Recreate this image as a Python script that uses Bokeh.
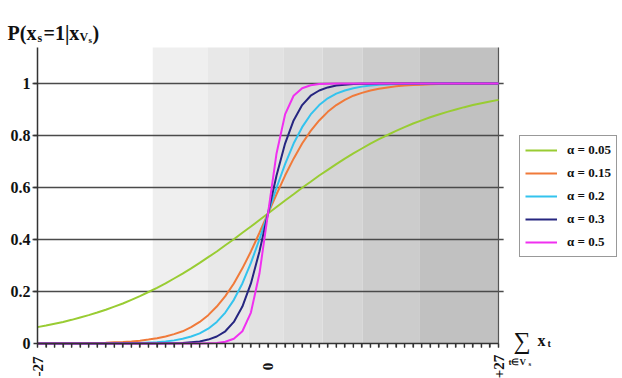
from math import pi
from bokeh.plotting import figure
from bokeh.models import (Range1d, FixedTicker, Label, LabelSet, ColumnDataSource,
                          Legend, LegendItem)
from bokeh.embed import file_html
from bokeh.resources import INLINE

# ---------------- data ----------------
xs = list(range(-27, 28))

alpha_labels = ["α = 0.05", "α = 0.15", "α = 0.2", "α = 0.3", "α = 0.5"]

p_a005 = [0.063, 0.069, 0.076, 0.083, 0.091, 0.100, 0.109, 0.119, 0.130, 0.142,
          0.154, 0.168, 0.182, 0.198, 0.214, 0.231, 0.250, 0.269, 0.289, 0.310,
          0.332, 0.354, 0.378, 0.401, 0.426, 0.450, 0.475,
          0.500,
          0.525, 0.550, 0.574, 0.599, 0.622, 0.646, 0.668, 0.690, 0.711, 0.731,
          0.750, 0.769, 0.786, 0.802, 0.818, 0.832, 0.846, 0.858, 0.870, 0.881,
          0.891, 0.900, 0.909, 0.917, 0.924, 0.931, 0.937]

p_a015 = [0.000, 0.000, 0.001, 0.001, 0.001, 0.001, 0.002, 0.002, 0.003, 0.005,
          0.006, 0.008, 0.011, 0.015, 0.020, 0.027, 0.036, 0.047, 0.063, 0.083,
          0.109, 0.142, 0.182, 0.231, 0.289, 0.354, 0.426,
          0.500,
          0.574, 0.646, 0.711, 0.769, 0.818, 0.858, 0.891, 0.917, 0.937, 0.953,
          0.964, 0.973, 0.980, 0.985, 0.989, 0.992, 0.994, 0.995, 0.997, 0.998,
          0.998, 0.999, 0.999, 0.999, 0.999, 1.000, 1.000]

p_a02 = [0.000, 0.000, 0.000, 0.000, 0.000, 0.000, 0.000, 0.000, 0.000, 0.001,
         0.001, 0.002, 0.002, 0.004, 0.005, 0.008, 0.012, 0.018, 0.027, 0.039,
         0.057, 0.083, 0.119, 0.168, 0.231, 0.310, 0.401,
         0.500,
         0.599, 0.690, 0.769, 0.832, 0.881, 0.917, 0.943, 0.961, 0.973, 0.982,
         0.988, 0.992, 0.995, 0.996, 0.998, 0.998, 0.999, 0.999, 1.000, 1.000,
         1.000, 1.000, 1.000, 1.000, 1.000, 1.000, 1.000]

p_a03 = [0.000, 0.000, 0.000, 0.000, 0.000, 0.000, 0.000, 0.000, 0.000, 0.000,
         0.000, 0.000, 0.000, 0.000, 0.000, 0.001, 0.001, 0.002, 0.005, 0.008,
         0.015, 0.027, 0.047, 0.083, 0.142, 0.231, 0.354,
         0.500,
         0.646, 0.769, 0.858, 0.917, 0.953, 0.973, 0.985, 0.992, 0.995, 0.998,
         0.999, 0.999, 1.000, 1.000, 1.000, 1.000, 1.000, 1.000, 1.000, 1.000,
         1.000, 1.000, 1.000, 1.000, 1.000, 1.000, 1.000]

p_a05 = [0.000, 0.000, 0.000, 0.000, 0.000, 0.000, 0.000, 0.000, 0.000, 0.000,
         0.000, 0.000, 0.000, 0.000, 0.000, 0.000, 0.000, 0.000, 0.000, 0.000,
         0.001, 0.002, 0.007, 0.018, 0.047, 0.119, 0.269,
         0.500,
         0.731, 0.881, 0.953, 0.982, 0.993, 0.998, 0.999, 1.000, 1.000, 1.000,
         1.000, 1.000, 1.000, 1.000, 1.000, 1.000, 1.000, 1.000, 1.000, 1.000,
         1.000, 1.000, 1.000, 1.000, 1.000, 1.000, 1.000]

series = [p_a005, p_a015, p_a02, p_a03, p_a05]
for s in series:
    assert len(s) == len(xs)

y_ticks = [0, 0.2, 0.4, 0.6, 0.8, 1.0]
x_tick_vals = [-27, 0, 27]
x_tick_labels = ["-27", "0", "+27"]

# background bands (x edges)
band_edges = [-13.5, -7.1, -2.3, 1.8, 6.4, 11.1, 17.8, 27]

# ---------------- styles ----------------
colors = ["#99cc33", "#f07a3a", "#33c3ee", "#262680", "#f030f0"]
band_colors = ["#efefef", "#e8e8e8", "#e2e2e2", "#dcdcdc", "#d5d5d5", "#cccccc", "#c1c1c1"]
SERIF = "Liberation Serif"
AX = "#333333"
W, H = 622, 378

YTOP = 1.138
# frame = whole canvas; data x=-27 at px 37, x=27 at px 498; y=0 at px 343, y=1 at px 83
PXX = (498 - 37) / 54.0
PXY = (343 - 83) / 1.0
x0 = -27 - 37 / PXX
x1 = 27 + (W - 498) / PXX
y0 = -(H - 343) / PXY
y1 = 343 / PXY
TICK = 4  # px

p = figure(width=W, height=H, output_backend="svg", toolbar_location=None,
           x_range=Range1d(x0, x1), y_range=Range1d(y0, y1), min_border=0)
p.outline_line_color = None
p.grid.visible = False
p.background_fill_color = "white"
p.border_fill_color = "white"

# bands
p.quad(left=band_edges[:-1], right=band_edges[1:], bottom=0, top=YTOP,
       fill_color=band_colors, line_color=None)

# horizontal grid lines (crossing the y axis as its ticks)
grid_y = [v for v in y_ticks if v > 0]
p.segment(x0=[-27 - 5 / PXX] * len(grid_y), x1=[27.6] * len(grid_y), y0=grid_y, y1=grid_y,
          line_color="#4a4a4a", line_width=1.5)
# right edge line
p.segment(x0=[27], x1=[27], y0=[0], y1=[YTOP], line_color="#555555", line_width=1.2)

renderers = []
for ys, c in zip(series, colors):
    r = p.line(xs, ys, line_color=c, line_width=2)
    renderers.append(r)

# x tick marks below the axis at every unit
p.segment(x0=xs, x1=xs, y0=[0] * len(xs), y1=[-TICK / PXY] * len(xs),
          line_color="#222222", line_width=1.3)

# axes (fixed inside the frame)
xa = p.xaxis[0]
xa.fixed_location = 0
xa.ticker = FixedTicker(ticks=xs, minor_ticks=[])
xa.major_label_overrides = {v: "" for v in xs}
xa.bounds = (-27, 27)
xa.axis_line_color = AX
xa.axis_line_width = 1.5
xa.major_tick_out = TICK
xa.major_tick_in = 0
xa.major_tick_line_color = AX
xa.major_tick_line_width = 1.2
xa.minor_tick_out = 0
xa.minor_tick_in = 0

ya = p.yaxis[0]
ya.fixed_location = -27
ya.ticker = FixedTicker(ticks=y_ticks)
ya.bounds = (0, YTOP)
ya.major_label_overrides = {0: "0", 1: "1"}
ya.axis_line_color = AX
ya.axis_line_width = 1.5
ya.major_tick_out = TICK
ya.major_tick_in = 0
ya.major_tick_line_color = AX
ya.major_tick_line_width = 1.5
ya.minor_tick_out = 0
ya.minor_tick_in = 0
ya.major_label_standoff = 3
ya.major_label_text_font = SERIF
ya.major_label_text_font_style = "bold"
ya.major_label_text_font_size = "16px"
ya.major_label_text_color = "#111111"

# x tick labels (rotated, centred)
src = ColumnDataSource(dict(x=x_tick_vals, t=x_tick_labels))
p.add_layout(LabelSet(x="x", y=H - 366, y_units="screen", text="t", source=src,
                      angle=pi / 2, text_align="center", text_baseline="middle",
                      text_font=SERIF, text_font_style="bold",
                      text_font_size="15px", text_color="#111111"))

def lab(text, cx, cy, size, style="bold", font=SERIF):
    p.add_layout(Label(x=cx, y=H - cy, x_units="screen", y_units="screen",
                       text=text, text_font=font, text_font_style=style,
                       text_font_size=size, text_color="#111111",
                       text_baseline="alphabetic", text_align="left"))

# y title P(x_s=1|x_{V_s})
lab("P(x", 7, 32, "20px")
lab("s", 37, 37, "12px")
lab("=1|x", 43, 32, "20px")
lab("V", 79, 36, "12px")
lab("s", 88, 39, "9px")
lab(")", 92, 32, "20px")

# x title  sum_{t in V_s} x_t
lab("∑", 513, 340, "24px", "normal", SERIF)
lab("x", 537, 340, "16px")
lab("t", 547, 343, "10px")
lab("t∈V", 508, 361, "9px")
lab("s", 528, 363, "7px")

# legend
legend = Legend(items=[LegendItem(label=l, renderers=[r]) for l, r in zip(alpha_labels, renderers)],
                location=(519, H - 257), orientation="vertical")
legend.label_text_font = SERIF
legend.label_text_font_style = "bold"
legend.label_text_font_size = "13px"
legend.label_text_color = "#111111"
legend.border_line_color = "#333333"
legend.border_line_width = 1
legend.background_fill_color = "white"
legend.background_fill_alpha = 1
legend.padding = 5
legend.spacing = 5
legend.glyph_width = 32
legend.glyph_height = 18
legend.label_height = 18
legend.label_standoff = 10
legend.margin = 0
p.add_layout(legend)

open("out.html", "w").write(file_html(p, INLINE))
